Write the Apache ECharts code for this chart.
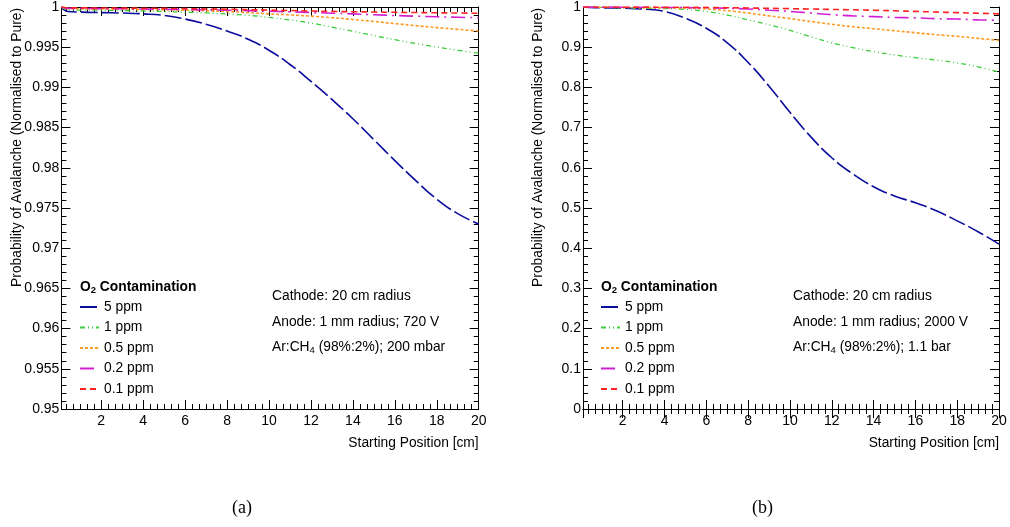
<!DOCTYPE html>
<html>
<head>
<meta charset="utf-8">
<script src="https://cdn.jsdelivr.net/npm/echarts@6/dist/echarts.min.js"></script>
<style>html,body{margin:0;padding:0;background:#fff;}#c{width:1010px;height:527px;}</style>
</head>
<body>
<div id="c"></div>
<script>
// ---- data ----
const xPos = [0.1, 0.4, 1, 2, 3, 4, 5, 6, 7, 8, 9, 10, 11, 12, 13, 14, 15, 16, 17, 18, 19, 20];
const seriesNames = ['5 ppm', '1 ppm', '0.5 ppm', '0.2 ppm', '0.1 ppm'];

// panel (a): 200 mbar
const a5ppm  = [1.0, 0.99945, 0.99937, 0.99930, 0.99925, 0.99915, 0.99895, 0.99850, 0.99785, 0.99702, 0.99600, 0.99462, 0.99285, 0.99075, 0.98850, 0.98610, 0.98350, 0.98090, 0.97840, 0.97610, 0.97430, 0.97300];
const a1ppm  = [1.0, 0.99965, 0.99962, 0.99960, 0.99955, 0.99950, 0.99944, 0.99936, 0.99926, 0.99913, 0.99896, 0.99870, 0.99838, 0.99800, 0.99750, 0.99698, 0.99645, 0.99594, 0.99545, 0.99502, 0.99462, 0.99425];
const a05ppm = [1.0, 0.99980, 0.99978, 0.99975, 0.99972, 0.99970, 0.99966, 0.99961, 0.99954, 0.99944, 0.99930, 0.99915, 0.99902, 0.99886, 0.99867, 0.99845, 0.99820, 0.99794, 0.99768, 0.99744, 0.99722, 0.99702];
const a02ppm = [1.0, 0.99985, 0.99983, 0.99980, 0.99978, 0.99975, 0.99972, 0.99969, 0.99965, 0.99960, 0.99955, 0.99948, 0.99940, 0.99932, 0.99923, 0.99914, 0.99904, 0.99894, 0.99886, 0.99878, 0.99872, 0.99867];
const a01ppm = [1.0, 0.99990, 0.99989, 0.99988, 0.99987, 0.99985, 0.99983, 0.99980, 0.99976, 0.99972, 0.99967, 0.99962, 0.99956, 0.99950, 0.99945, 0.99941, 0.99937, 0.99934, 0.99931, 0.99928, 0.99925, 0.99922];

// panel (b): 1.1 bar
const b5ppm  = [1.0, 0.999, 0.998, 0.997, 0.995, 0.989, 0.972, 0.947, 0.911, 0.862, 0.803, 0.738, 0.677, 0.625, 0.585, 0.553, 0.530, 0.513, 0.493, 0.468, 0.441, 0.410];
const b1ppm  = [1.0, 0.9995, 0.999, 0.998, 0.997, 0.996, 0.994, 0.989, 0.980, 0.968, 0.956, 0.942, 0.926, 0.911, 0.899, 0.889, 0.881, 0.874, 0.868, 0.861, 0.851, 0.838];
const b05ppm = [1.0, 0.9997, 0.9995, 0.999, 0.9985, 0.998, 0.997, 0.995, 0.991, 0.985, 0.978, 0.971, 0.964, 0.957, 0.951, 0.946, 0.941, 0.936, 0.931, 0.927, 0.922, 0.917];
const b02ppm = [1.0, 0.9998, 0.9997, 0.9995, 0.9993, 0.999, 0.9985, 0.998, 0.997, 0.995, 0.992, 0.989, 0.985, 0.981, 0.978, 0.976, 0.974, 0.973, 0.971, 0.970, 0.968, 0.967];
const b01ppm = [1.0, 0.9999, 0.9999, 0.9998, 0.9997, 0.9995, 0.9993, 0.999, 0.9983, 0.9975, 0.9967, 0.9958, 0.995, 0.994, 0.993, 0.992, 0.9905, 0.989, 0.9875, 0.986, 0.9845, 0.983];

const panelA = [a5ppm, a1ppm, a05ppm, a02ppm, a01ppm];
const panelB = [b5ppm, b1ppm, b05ppm, b02ppm, b01ppm];

// ---- styles ----
const FONT = 'Liberation Sans, Arial, Helvetica, sans-serif';
const lineStyles = [
  {color: '#0c0c9c', width: 1.6, type: [17, 4]},
  {color: '#3dcc3d', width: 1.3, type: [5, 3, 1, 3, 1, 3]},
  {color: '#ff9a22', width: 1.6, type: [3, 2]},
  {color: '#d21fd2', width: 1.6, type: [14, 5, 2, 5]},
  {color: '#ff2020', width: 1.6, type: [6, 4]}
];

const chart = echarts.init(document.getElementById('c'), null, {renderer: 'canvas'});

const grids = [
  {left: 61.4, top: 6, width: 417.3, height: 403},
  {left: 583, top: 6, width: 416, height: 403}
];

function xAxes(gi) {
  const base = {
    type: 'value', gridIndex: gi, min: 0.1, max: 20, splitNumber: 10,
    axisLine: {show: true, lineStyle: {color: '#000', width: 1}},
    axisTick: {show: true, inside: true, length: 9, lineStyle: {color: '#000'}},
    minorTick: {show: true, splitNumber: 6, length: 5, lineStyle: {color: '#000'}},
    splitLine: {show: false}, minorSplitLine: {show: false}
  };
  return [
    Object.assign({}, base, {position: 'bottom',
      axisLabel: {show: true, showMinLabel: false, margin: 5, color: '#000', fontSize: 14, fontFamily: FONT}}),
    Object.assign({}, base, {position: 'top', axisLabel: {show: false}})
  ];
}
function yAxes(gi, min, max, interval) {
  const base = {
    type: 'value', gridIndex: gi, min: min, max: max, interval: interval,
    axisLine: {show: true, lineStyle: {color: '#000', width: 1}},
    axisTick: {show: true, inside: true, length: 9, lineStyle: {color: '#000'}},
    minorTick: {show: true, splitNumber: 5, length: 5, lineStyle: {color: '#000'}},
    splitLine: {show: false}, minorSplitLine: {show: false}
  };
  return [
    Object.assign({}, base, {position: 'left',
      axisLabel: {show: true, margin: 2, color: '#000', fontSize: 14, fontFamily: FONT,
        formatter: v => String(parseFloat(v.toFixed(4)))}}),
    Object.assign({}, base, {position: 'right', axisLabel: {show: false}})
  ];
}

const series = [];
[panelA, panelB].forEach((panel, p) => {
  panel.forEach((vals, i) => {
    series.push({
      type: 'line', name: seriesNames[i],
      xAxisIndex: p * 2, yAxisIndex: p * 2,
      data: xPos.map((x, k) => [x, vals[k]]),
      symbol: 'none', showSymbol: false, smooth: 0.5,
      lineStyle: lineStyles[i], itemStyle: {color: lineStyles[i].color},
      emphasis: {disabled: true}, animation: false
    });
  });
});

const rich = {
  n: {fontSize: 13.8, fontFamily: FONT, color: '#000', fontWeight: 'normal', lineHeight: 16},
  s: {fontSize: 9.5, fontFamily: FONT, color: '#000', fontWeight: 'normal', lineHeight: 16, padding: [7, 0, 0, 0]},
  b: {fontSize: 13.8, fontFamily: FONT, color: '#000', fontWeight: 'bold', lineHeight: 16},
  bs: {fontSize: 9.5, fontFamily: FONT, color: '#000', fontWeight: 'bold', lineHeight: 16, padding: [7, 0, 0, 0]}
};
function t(text, left, top) {
  return {text: text, left: left, top: top, padding: 0,
    textStyle: {rich: rich, fontSize: 13.8, fontFamily: FONT, fontWeight: 'normal', color: '#000', lineHeight: 16}};
}
const panelText = [
  ['{n|Cathode: 20 cm radius}', '{n|Anode: 1 mm radius; 720 V}', '{n|Ar:CH}{s|4}{n| (98%:2%); 200 mbar}'],
  ['{n|Cathode: 20 cm radius}', '{n|Anode: 1 mm radius; 2000 V}', '{n|Ar:CH}{s|4}{n| (98%:2%); 1.1 bar}']
];
const titles = [];
[[272, 80], [793, 601]].forEach((pos, p) => {
  titles.push(t('{b|O}{bs|2}{b| Contamination}', pos[1], 279));
  titles.push(t(panelText[p][0], pos[0], 288));
  titles.push(t(panelText[p][1], pos[0], 314));
  titles.push(t(panelText[p][2], pos[0], 339));
});
const serif = 'Liberation Serif, Times New Roman, serif';
titles.push({text: '(a)', left: 232, top: 498, padding: 0, textStyle: {fontFamily: serif, fontSize: 18, fontWeight: 'normal', color: '#000', lineHeight: 20}});
titles.push({text: '(b)', left: 752, top: 498, padding: 0, textStyle: {fontFamily: serif, fontSize: 18, fontWeight: 'normal', color: '#000', lineHeight: 20}});

function legend(left) {
  return {
    orient: 'vertical', left: left, top: 300, padding: 0,
    itemWidth: 19, itemHeight: 14, itemGap: 6.5,
    data: seriesNames, selectedMode: false,
    itemStyle: {opacity: 0},
    textStyle: {fontSize: 13.8, fontFamily: FONT, color: '#000', lineHeight: 14}
  };
}

const yTitle = 'Probability of Avalanche (Normalised to Pure)';
const graphic = [
  {type: 'text', x: 17.5, y: 8, rotation: Math.PI / 2,
    style: {text: yTitle, font: '13.8px ' + FONT, fill: '#000', align: 'right', verticalAlign: 'middle', textAlign: 'right', textVerticalAlign: 'middle'}},
  {type: 'text', x: 538, y: 8, rotation: Math.PI / 2,
    style: {text: yTitle, font: '13.8px ' + FONT, fill: '#000', align: 'right', verticalAlign: 'middle', textAlign: 'right', textVerticalAlign: 'middle'}},
  {type: 'text', x: 478.7, y: 443,
    style: {text: 'Starting Position [cm]', font: '13.8px ' + FONT, fill: '#000', align: 'right', verticalAlign: 'middle', textAlign: 'right', textVerticalAlign: 'middle'}},
  {type: 'text', x: 999, y: 443,
    style: {text: 'Starting Position [cm]', font: '13.8px ' + FONT, fill: '#000', align: 'right', verticalAlign: 'middle', textAlign: 'right', textVerticalAlign: 'middle'}}
];

chart.setOption({
  animation: false,
  backgroundColor: '#fff',
  grid: grids,
  xAxis: xAxes(0).concat(xAxes(1)),
  yAxis: yAxes(0, 0.95, 1, 0.005).concat(yAxes(1, 0, 1, 0.1)),
  series: series,
  title: titles,
  legend: [legend(79), legend(600)],
  graphic: graphic
});
</script>
</body>
</html>
